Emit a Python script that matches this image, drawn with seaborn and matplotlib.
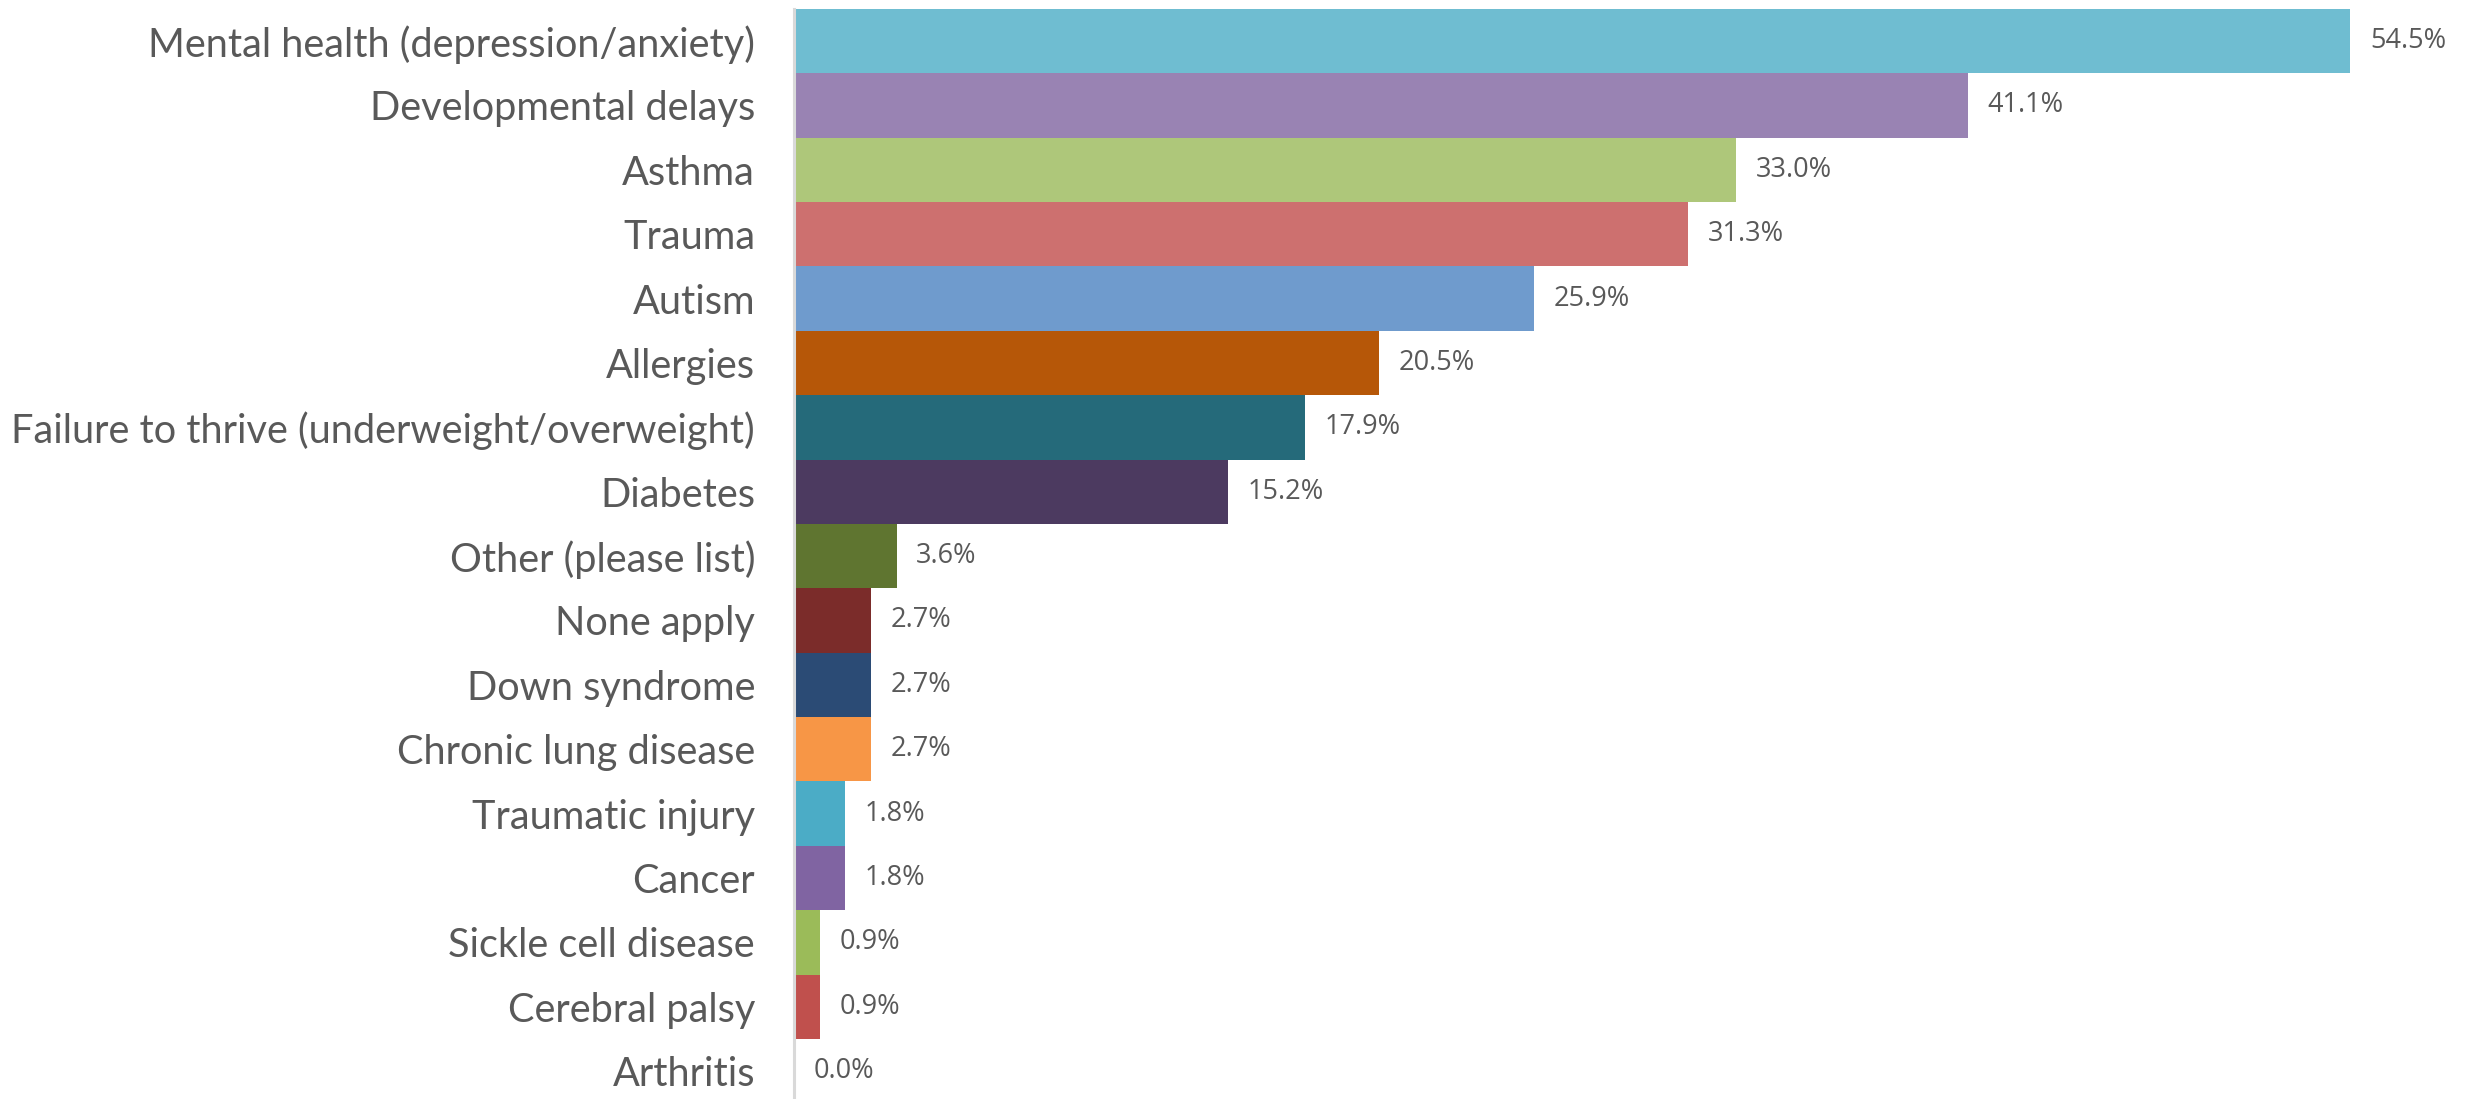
import matplotlib
matplotlib.use("Agg")
import matplotlib.pyplot as plt
import seaborn as sns
import pandas as pd

categories = [
    "Mental health (depression/anxiety)",
    "Developmental delays",
    "Asthma",
    "Trauma",
    "Autism",
    "Allergies",
    "Failure to thrive (underweight/overweight)",
    "Diabetes",
    "Other (please list)",
    "None apply",
    "Down syndrome",
    "Chronic lung disease",
    "Traumatic injury",
    "Cancer",
    "Sickle cell disease",
    "Cerebral palsy",
    "Arthritis",
]
values = [54.5, 41.1, 33.0, 31.3, 25.9, 20.5, 17.9, 15.2, 3.6, 2.7, 2.7, 2.7, 1.8, 1.8, 0.9, 0.9, 0.0]
colors = [
    "#6FBDD1", "#9983B3", "#AEC77A", "#CD706F", "#6F9BCD", "#B65708",
    "#256A7A", "#4C3A60", "#5F7530", "#7B2C2A", "#2B4B75", "#F79646",
    "#4BACC6", "#8064A2", "#9BBB59", "#C0504D", "#4F81BD",
]

df = pd.DataFrame({"category": categories, "value": values})

sns.set_style("white")
plt.rcParams["font.family"] = ["Lato", "DejaVu Sans"]

fig = plt.figure(figsize=(24.79, 10.99), dpi=100)
ax = fig.add_axes([794 / 2479, -0.004, 1 - 794 / 2479, 0.996])

sns.barplot(data=df, x="value", y="category", hue="category", palette=colors,
            order=categories, hue_order=categories, legend=False, orient="h",
            width=1.0, linewidth=0, dodge=False, saturation=1, ax=ax)

for cont, v in zip(ax.containers, values):
    ax.bar_label(cont, labels=[f"{v:.1f}%"], padding=14, color="#595959",
                 fontsize=19.5, family=["Open Sans", "DejaVu Sans"])

ax.set_xlim(0, 59.0)
ax.set_ylim(len(categories) - 0.5, -0.5)
ax.set_xlabel("")
ax.set_ylabel("")
ax.set_xticks([])
for s in ["top", "right", "bottom"]:
    ax.spines[s].set_visible(False)
ax.spines["left"].set_color("#D9D9D9")
ax.spines["left"].set_linewidth(2.2)
ax.tick_params(axis="y", length=0, pad=28, labelsize=28.6, labelcolor="#595959")

fig.savefig("out.png", dpi=100)
